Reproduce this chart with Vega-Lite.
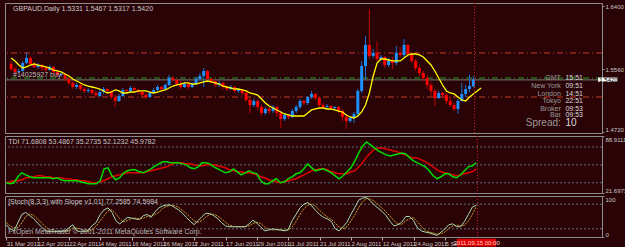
{
"$schema": "https://vega.github.io/schema/vega-lite/v6.json",
"background": "#2a0306",
"padding": {"left": 2, "top": 2, "right": 0, "bottom": 0},
"spacing": 3,
"bounds": "flush",
"datasets": {
"bars": [
{"i":0,"o":1.5630,"h":1.5670,"l":1.5536,"c":1.5563,"m":1.5710,"g":32,"r":32,"k":30,"d":35},
{"i":1,"o":1.5563,"h":1.5590,"l":1.5496,"c":1.5523,"m":1.5670,"g":31,"r":33,"k":20,"d":27},
{"i":2,"o":1.5523,"h":1.5563,"l":1.5509,"c":1.5536,"m":1.5616,"g":32,"r":34,"k":15,"d":22},
{"i":3,"o":1.5536,"h":1.5670,"l":1.5523,"c":1.5643,"m":1.5576,"g":38,"r":34,"k":35,"d":23},
{"i":4,"o":1.5643,"h":1.5777,"l":1.5630,"c":1.5710,"m":1.5590,"g":42,"r":35,"k":55,"d":35},
{"i":5,"o":1.5710,"h":1.5737,"l":1.5616,"c":1.5630,"m":1.5616,"g":40,"r":37,"k":60,"d":50},
{"i":6,"o":1.5630,"h":1.5656,"l":1.5576,"c":1.5590,"m":1.5630,"g":38,"r":37,"k":52,"d":56},
{"i":7,"o":1.5590,"h":1.5643,"l":1.5563,"c":1.5616,"m":1.5616,"g":37,"r":38,"k":45,"d":53},
{"i":8,"o":1.5616,"h":1.5630,"l":1.5536,"c":1.5576,"m":1.5603,"g":37,"r":39,"k":34,"d":44},
{"i":9,"o":1.5576,"h":1.5603,"l":1.5523,"c":1.5549,"m":1.5590,"g":37,"r":39,"k":25,"d":35},
{"i":10,"o":1.5549,"h":1.5616,"l":1.5536,"c":1.5590,"m":1.5576,"g":37,"r":38,"k":15,"d":25},
{"i":11,"o":1.5590,"h":1.5603,"l":1.5496,"c":1.5523,"m":1.5549,"g":37,"r":38,"k":13,"d":18},
{"i":12,"o":1.5523,"h":1.5549,"l":1.5456,"c":1.5483,"m":1.5536,"g":36,"r":37,"k":13,"d":14},
{"i":13,"o":1.5483,"h":1.5509,"l":1.5456,"c":1.5496,"m":1.5523,"g":37,"r":37,"k":13,"d":13},
{"i":14,"o":1.5496,"h":1.5509,"l":1.5402,"c":1.5429,"m":1.5496,"g":35,"r":37,"k":14,"d":13},
{"i":15,"o":1.5429,"h":1.5456,"l":1.5349,"c":1.5376,"m":1.5469,"g":34,"r":36,"k":15,"d":14},
{"i":16,"o":1.5376,"h":1.5402,"l":1.5295,"c":1.5322,"m":1.5429,"g":34,"r":36,"k":22,"d":17},
{"i":17,"o":1.5322,"h":1.5376,"l":1.5295,"c":1.5349,"m":1.5402,"g":34,"r":35,"k":30,"d":22},
{"i":18,"o":1.5349,"h":1.5362,"l":1.5269,"c":1.5295,"m":1.5376,"g":34,"r":35,"k":15,"d":22},
{"i":19,"o":1.5295,"h":1.5322,"l":1.5242,"c":1.5269,"m":1.5349,"g":33,"r":34,"k":13,"d":19},
{"i":20,"o":1.5269,"h":1.5309,"l":1.5242,"c":1.5282,"m":1.5335,"g":32,"r":34,"k":13,"d":14},
{"i":21,"o":1.5282,"h":1.5295,"l":1.5215,"c":1.5242,"m":1.5322,"g":31,"r":33,"k":17,"d":14},
{"i":22,"o":1.5242,"h":1.5269,"l":1.5188,"c":1.5215,"m":1.5309,"g":31,"r":32,"k":28,"d":19},
{"i":23,"o":1.5202,"h":1.5282,"l":1.5188,"c":1.5255,"m":1.5295,"g":31,"r":32,"k":36,"d":27},
{"i":24,"o":1.5255,"h":1.5322,"l":1.5229,"c":1.5295,"m":1.5269,"g":34,"r":33,"k":55,"d":40},
{"i":25,"o":1.5295,"h":1.5309,"l":1.5242,"c":1.5269,"m":1.5242,"g":46,"r":34,"k":66,"d":52},
{"i":26,"o":1.5269,"h":1.5282,"l":1.5162,"c":1.5188,"m":1.5255,"g":47,"r":36,"k":71,"d":64},
{"i":27,"o":1.5188,"h":1.5215,"l":1.5055,"c":1.5135,"m":1.5282,"g":39,"r":38,"k":60,"d":66},
{"i":28,"o":1.5135,"h":1.5229,"l":1.5122,"c":1.5202,"m":1.5269,"g":35,"r":39,"k":40,"d":57},
{"i":29,"o":1.5202,"h":1.5309,"l":1.5188,"c":1.5282,"m":1.5242,"g":37,"r":40,"k":32,"d":44},
{"i":30,"o":1.5282,"h":1.5295,"l":1.5242,"c":1.5269,"m":1.5242,"g":42,"r":41,"k":40,"d":37},
{"i":31,"o":1.5269,"h":1.5335,"l":1.5255,"c":1.5309,"m":1.5255,"g":44,"r":42,"k":48,"d":40},
{"i":32,"o":1.5309,"h":1.5322,"l":1.5269,"c":1.5282,"m":1.5255,"g":45,"r":42,"k":46,"d":45},
{"i":33,"o":1.5282,"h":1.5295,"l":1.5229,"c":1.5255,"m":1.5269,"g":45,"r":42,"k":44,"d":46},
{"i":34,"o":1.5255,"h":1.5269,"l":1.5188,"c":1.5215,"m":1.5269,"g":43,"r":42,"k":43,"d":44},
{"i":35,"o":1.5215,"h":1.5242,"l":1.5162,"c":1.5188,"m":1.5269,"g":42,"r":42,"k":52,"d":46},
{"i":36,"o":1.5188,"h":1.5255,"l":1.5175,"c":1.5242,"m":1.5255,"g":44,"r":43,"k":55,"d":50},
{"i":37,"o":1.5242,"h":1.5309,"l":1.5229,"c":1.5282,"m":1.5242,"g":46,"r":44,"k":48,"d":52},
{"i":38,"o":1.5282,"h":1.5349,"l":1.5269,"c":1.5322,"m":1.5255,"g":49,"r":45,"k":62,"d":55},
{"i":39,"o":1.5322,"h":1.5335,"l":1.5269,"c":1.5295,"m":1.5269,"g":51,"r":46,"k":71,"d":60},
{"i":40,"o":1.5295,"h":1.5376,"l":1.5282,"c":1.5349,"m":1.5282,"g":53,"r":47,"k":76,"d":70},
{"i":41,"o":1.5349,"h":1.5483,"l":1.5335,"c":1.5442,"m":1.5309,"g":53,"r":48,"k":78,"d":75},
{"i":42,"o":1.5442,"h":1.5469,"l":1.5389,"c":1.5416,"m":1.5335,"g":52,"r":50,"k":78,"d":77},
{"i":43,"o":1.5416,"h":1.5429,"l":1.5335,"c":1.5362,"m":1.5349,"g":52,"r":52,"k":72,"d":76},
{"i":44,"o":1.5362,"h":1.5402,"l":1.5295,"c":1.5322,"m":1.5362,"g":52,"r":52,"k":66,"d":72},
{"i":45,"o":1.5322,"h":1.5389,"l":1.5309,"c":1.5362,"m":1.5376,"g":51,"r":52,"k":58,"d":65},
{"i":46,"o":1.5362,"h":1.5376,"l":1.5295,"c":1.5322,"m":1.5376,"g":50,"r":51,"k":48,"d":57},
{"i":47,"o":1.5322,"h":1.5389,"l":1.5309,"c":1.5362,"m":1.5362,"g":47,"r":51,"k":38,"d":48},
{"i":48,"o":1.5362,"h":1.5456,"l":1.5349,"c":1.5429,"m":1.5362,"g":46,"r":50,"k":30,"d":39},
{"i":49,"o":1.5429,"h":1.5509,"l":1.5402,"c":1.5469,"m":1.5376,"g":48,"r":49,"k":40,"d":36},
{"i":50,"o":1.5469,"h":1.5576,"l":1.5322,"c":1.5536,"m":1.5389,"g":52,"r":49,"k":50,"d":40},
{"i":51,"o":1.5536,"h":1.5549,"l":1.5402,"c":1.5429,"m":1.5402,"g":52,"r":50,"k":58,"d":49},
{"i":52,"o":1.5429,"h":1.5442,"l":1.5376,"c":1.5402,"m":1.5389,"g":51,"r":50,"k":57,"d":55},
{"i":53,"o":1.5402,"h":1.5416,"l":1.5322,"c":1.5349,"m":1.5376,"g":48,"r":50,"k":52,"d":56},
{"i":54,"o":1.5349,"h":1.5402,"l":1.5322,"c":1.5376,"m":1.5362,"g":46,"r":49,"k":45,"d":51},
{"i":55,"o":1.5376,"h":1.5389,"l":1.5295,"c":1.5322,"m":1.5335,"g":44,"r":48,"k":35,"d":44},
{"i":56,"o":1.5322,"h":1.5335,"l":1.5269,"c":1.5295,"m":1.5322,"g":42,"r":47,"k":27,"d":36},
{"i":57,"o":1.5295,"h":1.5349,"l":1.5282,"c":1.5322,"m":1.5309,"g":43,"r":45,"k":25,"d":29},
{"i":58,"o":1.5322,"h":1.5335,"l":1.5242,"c":1.5269,"m":1.5295,"g":46,"r":44,"k":25,"d":26},
{"i":59,"o":1.5269,"h":1.5309,"l":1.5242,"c":1.5282,"m":1.5295,"g":43,"r":43,"k":25,"d":25},
{"i":60,"o":1.5282,"h":1.5295,"l":1.5215,"c":1.5242,"m":1.5282,"g":40,"r":43,"k":25,"d":25},
{"i":61,"o":1.5242,"h":1.5269,"l":1.5122,"c":1.5148,"m":1.5269,"g":42,"r":42,"k":25,"d":25},
{"i":62,"o":1.5148,"h":1.5175,"l":1.4974,"c":1.5081,"m":1.5242,"g":44,"r":42,"k":32,"d":27},
{"i":63,"o":1.5081,"h":1.5162,"l":1.5055,"c":1.5135,"m":1.5229,"g":42,"r":41,"k":41,"d":33},
{"i":64,"o":1.5135,"h":1.5148,"l":1.5015,"c":1.5055,"m":1.5215,"g":41,"r":40,"k":34,"d":36},
{"i":65,"o":1.5055,"h":1.5081,"l":1.4934,"c":1.4974,"m":1.5162,"g":34,"r":38,"k":24,"d":33},
{"i":66,"o":1.4974,"h":1.5055,"l":1.4948,"c":1.5028,"m":1.5108,"g":31,"r":37,"k":15,"d":24},
{"i":67,"o":1.5028,"h":1.5055,"l":1.4961,"c":1.5001,"m":1.5068,"g":31,"r":35,"k":17,"d":19},
{"i":68,"o":1.5001,"h":1.5081,"l":1.4974,"c":1.5055,"m":1.5041,"g":34,"r":34,"k":20,"d":17},
{"i":69,"o":1.5055,"h":1.5081,"l":1.4921,"c":1.4974,"m":1.5015,"g":36,"r":33,"k":18,"d":18},
{"i":70,"o":1.4974,"h":1.5001,"l":1.4774,"c":1.4894,"m":1.4988,"g":32,"r":32,"k":17,"d":18},
{"i":71,"o":1.4894,"h":1.4974,"l":1.4868,"c":1.4948,"m":1.4961,"g":33,"r":33,"k":15,"d":17},
{"i":72,"o":1.4948,"h":1.4961,"l":1.4894,"c":1.4921,"m":1.4948,"g":36,"r":34,"k":18,"d":17},
{"i":73,"o":1.4921,"h":1.5028,"l":1.4908,"c":1.5001,"m":1.4934,"g":38,"r":35,"k":40,"d":24},
{"i":74,"o":1.5001,"h":1.5081,"l":1.4974,"c":1.5055,"m":1.4934,"g":41,"r":36,"k":55,"d":38},
{"i":75,"o":1.5055,"h":1.5162,"l":1.5028,"c":1.5135,"m":1.4934,"g":42,"r":38,"k":71,"d":55},
{"i":76,"o":1.5135,"h":1.5148,"l":1.5081,"c":1.5108,"m":1.4934,"g":46,"r":40,"k":80,"d":69},
{"i":77,"o":1.5108,"h":1.5202,"l":1.5081,"c":1.5188,"m":1.4974,"g":51,"r":42,"k":84,"d":78},
{"i":78,"o":1.5188,"h":1.5269,"l":1.5162,"c":1.5229,"m":1.5015,"g":47,"r":44,"k":76,"d":80},
{"i":79,"o":1.5229,"h":1.5242,"l":1.5148,"c":1.5175,"m":1.5028,"g":44,"r":45,"k":65,"d":75},
{"i":80,"o":1.5175,"h":1.5202,"l":1.5055,"c":1.5081,"m":1.5041,"g":45,"r":46,"k":55,"d":65},
{"i":81,"o":1.5081,"h":1.5108,"l":1.5028,"c":1.5055,"m":1.5041,"g":46,"r":46,"k":48,"d":56},
{"i":82,"o":1.5055,"h":1.5095,"l":1.5028,"c":1.5068,"m":1.5028,"g":44,"r":45,"k":44,"d":49},
{"i":83,"o":1.5068,"h":1.5081,"l":1.5015,"c":1.5041,"m":1.5028,"g":42,"r":43,"k":38,"d":43},
{"i":84,"o":1.5041,"h":1.5068,"l":1.5015,"c":1.5055,"m":1.5015,"g":39,"r":42,"k":20,"d":34},
{"i":85,"o":1.5055,"h":1.5068,"l":1.4974,"c":1.5001,"m":1.5001,"g":36,"r":41,"k":15,"d":24},
{"i":86,"o":1.5001,"h":1.5028,"l":1.4868,"c":1.4921,"m":1.4988,"g":39,"r":41,"k":25,"d":20},
{"i":87,"o":1.4921,"h":1.4948,"l":1.4761,"c":1.4868,"m":1.4948,"g":43,"r":41,"k":36,"d":25},
{"i":88,"o":1.4868,"h":1.4934,"l":1.4841,"c":1.4908,"m":1.4921,"g":47,"r":43,"k":55,"d":39},
{"i":89,"o":1.4908,"h":1.4988,"l":1.4841,"c":1.4961,"m":1.4908,"g":54,"r":44,"k":72,"d":54},
{"i":90,"o":1.4961,"h":1.5295,"l":1.4921,"c":1.5269,"m":1.4934,"g":62,"r":48,"k":90,"d":72},
{"i":91,"o":1.5269,"h":1.5670,"l":1.5242,"c":1.5603,"m":1.4988,"g":69,"r":52,"k":95,"d":86},
{"i":92,"o":1.5603,"h":1.6004,"l":1.5429,"c":1.5884,"m":1.5081,"g":73,"r":58,"k":96,"d":94},
{"i":93,"o":1.5884,"h":1.6365,"l":1.5696,"c":1.5737,"m":1.5242,"g":70,"r":62,"k":88,"d":93},
{"i":94,"o":1.5737,"h":1.5830,"l":1.5710,"c":1.5777,"m":1.5469,"g":67,"r":66,"k":78,"d":87},
{"i":95,"o":1.5777,"h":1.5937,"l":1.5670,"c":1.5696,"m":1.5643,"g":64,"r":67,"k":70,"d":79},
{"i":96,"o":1.5696,"h":1.5750,"l":1.5670,"c":1.5723,"m":1.5696,"g":62,"r":67,"k":62,"d":70},
{"i":97,"o":1.5723,"h":1.5737,"l":1.5576,"c":1.5616,"m":1.5696,"g":60,"r":66,"k":52,"d":61},
{"i":98,"o":1.5616,"h":1.5710,"l":1.5590,"c":1.5670,"m":1.5683,"g":59,"r":65,"k":38,"d":51},
{"i":99,"o":1.5670,"h":1.5723,"l":1.5563,"c":1.5643,"m":1.5670,"g":60,"r":64,"k":27,"d":39},
{"i":100,"o":1.5643,"h":1.5870,"l":1.5616,"c":1.5777,"m":1.5670,"g":61,"r":63,"k":30,"d":32},
{"i":101,"o":1.5777,"h":1.5857,"l":1.5723,"c":1.5750,"m":1.5670,"g":62,"r":61,"k":36,"d":31},
{"i":102,"o":1.5750,"h":1.5964,"l":1.5723,"c":1.5884,"m":1.5710,"g":61,"r":60,"k":50,"d":39},
{"i":103,"o":1.5884,"h":1.5897,"l":1.5723,"c":1.5763,"m":1.5750,"g":57,"r":58,"k":50,"d":45},
{"i":104,"o":1.5763,"h":1.5790,"l":1.5643,"c":1.5670,"m":1.5763,"g":54,"r":57,"k":40,"d":47},
{"i":105,"o":1.5670,"h":1.5696,"l":1.5536,"c":1.5576,"m":1.5763,"g":52,"r":57,"k":22,"d":37},
{"i":106,"o":1.5576,"h":1.5616,"l":1.5469,"c":1.5509,"m":1.5750,"g":50,"r":55,"k":15,"d":26},
{"i":107,"o":1.5509,"h":1.5536,"l":1.5402,"c":1.5442,"m":1.5723,"g":48,"r":53,"k":12,"d":16},
{"i":108,"o":1.5442,"h":1.5483,"l":1.5295,"c":1.5349,"m":1.5670,"g":44,"r":51,"k":10,"d":12},
{"i":109,"o":1.5349,"h":1.5376,"l":1.5202,"c":1.5269,"m":1.5616,"g":39,"r":48,"k":7,"d":10},
{"i":110,"o":1.5269,"h":1.5295,"l":1.5068,"c":1.5175,"m":1.5536,"g":36,"r":45,"k":4,"d":7},
{"i":111,"o":1.5175,"h":1.5269,"l":1.5162,"c":1.5242,"m":1.5442,"g":38,"r":43,"k":12,"d":8},
{"i":112,"o":1.5242,"h":1.5255,"l":1.5188,"c":1.5215,"m":1.5349,"g":41,"r":42,"k":20,"d":12},
{"i":113,"o":1.5215,"h":1.5242,"l":1.5095,"c":1.5135,"m":1.5269,"g":41,"r":41,"k":30,"d":21},
{"i":114,"o":1.5135,"h":1.5188,"l":1.5055,"c":1.5081,"m":1.5242,"g":38,"r":40,"k":32,"d":27},
{"i":115,"o":1.5081,"h":1.5108,"l":1.5001,"c":1.5028,"m":1.5229,"g":37,"r":39,"k":25,"d":29},
{"i":116,"o":1.5028,"h":1.5162,"l":1.4961,"c":1.5135,"m":1.5188,"g":40,"r":40,"k":25,"d":27},
{"i":117,"o":1.5135,"h":1.5376,"l":1.5122,"c":1.5229,"m":1.5148,"g":44,"r":41,"k":38,"d":29},
{"i":118,"o":1.5229,"h":1.5349,"l":1.5188,"c":1.5295,"m":1.5135,"g":48,"r":42,"k":55,"d":39},
{"i":119,"o":1.5295,"h":1.5483,"l":1.5255,"c":1.5335,"m":1.5188,"g":49,"r":43,"k":73,"d":55},
{"i":120,"o":1.5331,"h":1.5467,"l":1.5317,"c":1.5420,"m":1.5229,"g":52.1232,"r":45.9782,"k":77.2585,"d":74.5984},
{"i":121,"m":1.5269},
{"i":122,"m":1.5309}
],
"info": [
{"k":"GMT","v":"15:51","p":1.5442},
{"k":"New York","v":"09:51","p":1.5335},
{"k":"London","v":"14:51","p":1.5229},
{"k":"Tokyo","v":"22:51","p":1.5135},
{"k":"Broker","v":"09:53","p":1.5028},
{"k":"Bar","v":"09:53","p":1.4948},
{"k":"Spread:","v":"10","p":1.4841}
]
},
"vconcat": [
{
"width": 597, "height": 130,
"layer": [
{"data": {"values": [{}]}, "mark": {"type": "rule", "color": "#c83c28", "strokeDash": [6, 3, 1, 3], "strokeWidth": 1}, "encoding": {"y": {"datum": 1.5777, "type": "quantitative", "scale": {"domain": [1.4707, 1.6445], "zero": false, "nice": false}, "axis": {"orient": "right", "values": [1.472, 1.493, 1.514, 1.535, 1.556, 1.577, 1.598, 1.619, 1.640], "format": ".4f", "title": null, "labelFontSize": 6, "labelColor": "#c8c8c8", "labelFont": "Liberation Sans", "tickSize": 2, "tickColor": "#8c8c8c", "labelPadding": 1, "domain": false, "grid": false, "labelBaseline": {"condition": {"test": "datum.value < 1.48", "value": "bottom"}, "value": "middle"}}}}},
{"data": {"values": [{}]}, "mark": {"type": "rule", "color": "#c83c28", "strokeDash": [6, 3, 1, 3], "strokeWidth": 1}, "encoding": {"y": {"datum": 1.5188, "type": "quantitative"}}},
{"data": {"values": [{}]}, "mark": {"type": "rule", "color": "#1fa01f", "strokeDash": [6, 3, 1, 3], "strokeWidth": 1}, "encoding": {"y": {"datum": 1.5442, "type": "quantitative"}}},
{"data": {"values": [{}]}, "mark": {"type": "rule", "color": "#7a7a7a", "strokeWidth": 1}, "encoding": {"y": {"datum": 1.5417, "type": "quantitative"}}},
{"data": {"name": "bars"}, "transform": [{"filter": "isValid(datum.o)"}], "mark": {"type": "rule", "strokeWidth": 1}, "encoding": {"x": {"field": "i", "type": "quantitative", "scale": {"domain": [-0.3, 152.1], "nice": false, "zero": false}, "axis": null}, "y": {"field": "l", "type": "quantitative"}, "y2": {"field": "h"}, "color": {"condition": {"test": "datum.c >= datum.o", "value": "#1a70d0"}, "value": "#c00000"}}},
{"data": {"name": "bars"}, "transform": [{"filter": "isValid(datum.o)"}], "mark": {"type": "bar", "size": 3}, "encoding": {"x": {"field": "i", "type": "quantitative"}, "y": {"field": "o", "type": "quantitative"}, "y2": {"field": "c"}, "color": {"condition": {"test": "datum.c >= datum.o", "value": "#1e90ff"}, "value": "#ff0000"}}},
{"data": {"name": "bars"}, "mark": {"type": "line", "color": "#ffff00", "strokeWidth": 1.3}, "encoding": {"x": {"field": "i", "type": "quantitative"}, "y": {"field": "m", "type": "quantitative"}}},
{"data": {"values": [{}]}, "mark": {"type": "rule", "color": "#d02020", "strokeDash": [1, 2], "strokeWidth": 1}, "encoding": {"x": {"datum": 120.3, "type": "quantitative"}}},
{"data": {"values": [{}]}, "mark": {"type": "text", "align": "left", "baseline": "top", "dy": 2, "fontSize": 7, "font": "Liberation Sans", "color": "#c8c8c8"}, "encoding": {"x": {"datum": 0.5, "type": "quantitative"}, "y": {"datum": 1.6445, "type": "quantitative"}, "text": {"value": "GBPAUD,Daily  1.5331 1.5467 1.5317 1.5420"}}},
{"data": {"values": [{}]}, "mark": {"type": "text", "align": "left", "baseline": "alphabetic", "fontSize": 7, "font": "Liberation Sans", "color": "#b8b8b8"}, "encoding": {"x": {"datum": 0.5, "type": "quantitative"}, "y": {"datum": 1.5451, "type": "quantitative"}, "text": {"value": "#14025927 buy"}}},
{"data": {"name": "info"}, "mark": {"type": "text", "align": "right", "baseline": "middle", "font": "Liberation Sans", "color": "#9a9a9a"}, "encoding": {"x": {"datum": 142.7, "type": "quantitative"}, "y": {"field": "p", "type": "quantitative"}, "text": {"field": "k"}, "size": {"condition": {"test": "datum.k == 'Spread:'", "value": 10}, "value": 7}}},
{"data": {"name": "info"}, "mark": {"type": "text", "align": "left", "baseline": "middle", "font": "Liberation Sans", "color": "#dcdcdc"}, "encoding": {"x": {"datum": 143.9, "type": "quantitative"}, "y": {"field": "p", "type": "quantitative"}, "text": {"field": "v"}, "size": {"condition": {"test": "datum.k == 'Spread:'", "value": 10}, "value": 7}}},
{"data": {"values": [{}]}, "mark": {"type": "bar", "color": "#ffffff"}, "encoding": {"x": {"datum": 152.4, "type": "quantitative"}, "x2": {"datum": 157.4}, "y": {"datum": 1.5448, "type": "quantitative"}, "y2": {"datum": 1.5392}}},
{"data": {"values": [{}]}, "mark": {"type": "text", "align": "left", "baseline": "middle", "fontSize": 6, "font": "Liberation Sans", "color": "#000000"}, "encoding": {"x": {"datum": 152.7, "type": "quantitative"}, "y": {"datum": 1.542, "type": "quantitative"}, "text": {"value": "1.5420"}}}
]
},
{
"width": 597, "height": 57,
"layer": [
{"data": {"values": [{"lv": 32}, {"lv": 50}, {"lv": 68}]}, "mark": {"type": "rule", "strokeDash": [2, 2], "color": "#5c6c7c"}, "encoding": {"y": {"field": "lv", "type": "quantitative", "scale": {"domain": [21.6973, 79], "zero": false, "nice": false}, "axis": {"orient": "right", "values": [21.6973, 32, 50, 68, 79], "format": ".4~f", "labelExpr": "datum.value > 77 ? '88.9111' : datum.label", "title": null, "labelFontSize": 6, "labelColor": "#c8c8c8", "labelFont": "Liberation Sans", "tickSize": 2, "tickColor": "#8c8c8c", "labelPadding": 1, "domain": false, "grid": false, "labelBaseline": {"condition": [{"test": "datum.value < 22", "value": "bottom"}, {"test": "datum.value > 77", "value": "top"}], "value": "middle"}}}}},
{"data": {"name": "bars"}, "mark": {"type": "line", "color": "#e00000", "strokeWidth": 1.5}, "encoding": {"x": {"field": "i", "type": "quantitative", "scale": {"domain": [-0.3, 152.1], "nice": false, "zero": false}, "axis": null}, "y": {"field": "r", "type": "quantitative"}}},
{"data": {"name": "bars"}, "mark": {"type": "line", "color": "#00dd00", "strokeWidth": 1.5}, "encoding": {"x": {"field": "i", "type": "quantitative"}, "y": {"field": "g", "type": "quantitative"}}},
{"data": {"values": [{}]}, "mark": {"type": "rule", "color": "#d02020", "strokeDash": [1, 2], "strokeWidth": 1}, "encoding": {"x": {"datum": 120.3, "type": "quantitative"}}},
{"data": {"values": [{}]}, "mark": {"type": "text", "align": "left", "baseline": "top", "dy": 2, "fontSize": 7, "font": "Liberation Sans", "color": "#c8c8c8"}, "encoding": {"x": {"datum": 0.5, "type": "quantitative"}, "y": {"datum": 79, "type": "quantitative"}, "text": {"value": "TDI 71.6808 53.4867 35.2735 52.1232 45.9782"}}}
]
},
{
"width": 597, "height": 41,
"layer": [
{"data": {"values": [{"lv": 20}, {"lv": 80}]}, "mark": {"type": "rule", "strokeDash": [2, 2], "color": "#5c7080"}, "encoding": {"y": {"field": "lv", "type": "quantitative", "scale": {"domain": [0, 100], "zero": false, "nice": false}, "axis": {"orient": "right", "values": [0, 20, 80, 100], "title": null, "labelFontSize": 6, "labelColor": "#c8c8c8", "labelFont": "Liberation Sans", "tickSize": 2, "tickColor": "#8c8c8c", "labelPadding": 1, "domain": false, "grid": false, "labelBaseline": {"condition": [{"test": "datum.value > 90", "value": "top"}, {"test": "datum.value < 10", "value": "bottom"}], "value": "middle"}}}}},
{"data": {"name": "bars"}, "mark": {"type": "line", "color": "#c8a028", "strokeWidth": 1, "strokeDash": [2, 1]}, "encoding": {"x": {"field": "i", "type": "quantitative", "scale": {"domain": [-0.3, 152.1], "nice": false, "zero": false}, "axis": {"orient": "bottom", "values": [0, 8, 16, 24, 32, 40, 48, 56, 64, 72, 80, 88, 96, 104, 112], "labelExpr": "['31 Mar 2011','12 Apr 2011','22 Apr 2011','4 May 2011','16 May 2011','26 May 2011','7 Jun 2011','17 Jun 2011','29 Jun 2011','11 Jul 2011','21 Jul 2011','2 Aug 2011','12 Aug 2011','24 Aug 2011','5 Sep 2011'][datum.value / 8]", "labelAlign": "left", "labelFontSize": 6, "labelColor": "#c8c8c8", "labelFont": "Liberation Sans", "tickSize": 3, "tickColor": "#b0b0b0", "labelPadding": 0, "domain": false, "grid": false, "title": null, "labelOverlap": false}}, "y": {"field": "d", "type": "quantitative"}}},
{"data": {"name": "bars"}, "mark": {"type": "line", "color": "#a8dcb4", "strokeWidth": 1}, "encoding": {"x": {"field": "i", "type": "quantitative"}, "y": {"field": "k", "type": "quantitative"}}},
{"data": {"values": [{}]}, "mark": {"type": "rule", "color": "#d02020", "strokeDash": [1, 2], "strokeWidth": 1}, "encoding": {"x": {"datum": 120.3, "type": "quantitative"}}},
{"data": {"values": [{}]}, "mark": {"type": "text", "align": "left", "baseline": "top", "dy": 2, "fontSize": 7, "font": "Liberation Sans", "color": "#c8c8c8"}, "encoding": {"x": {"datum": 0.5, "type": "quantitative"}, "y": {"datum": 100, "type": "quantitative"}, "text": {"value": "[Stoch(8,3,3) with Slope v1.01] 77.2585 74.5984"}}},
{"data": {"values": [{}]}, "mark": {"type": "text", "align": "left", "baseline": "bottom", "fontSize": 7, "font": "Liberation Sans", "color": "#b8b8b8"}, "encoding": {"x": {"datum": 0.5, "type": "quantitative"}, "y": {"datum": 4, "type": "quantitative"}, "text": {"value": "FxOpen MetaTrader © 2001-2011 MetaQuotes Software Corp."}}},
{"data": {"values": [{}]}, "mark": {"type": "bar", "color": "#e00000"}, "encoding": {"x": {"datum": 115.1, "type": "quantitative"}, "x2": {"datum": 125.1}, "y": {"datum": -4, "type": "quantitative"}, "y2": {"datum": -23}}},
{"data": {"values": [{}]}, "mark": {"type": "text", "align": "center", "baseline": "middle", "fontSize": 6, "font": "Liberation Sans", "color": "#ffd0d0"}, "encoding": {"x": {"datum": 120.1, "type": "quantitative"}, "y": {"datum": -14, "type": "quantitative"}, "text": {"value": "2011.09.15 00:00"}}}
]
}
],
"config": {
"view": {"stroke": "#8c8c8c", "strokeWidth": 1}
}
}
